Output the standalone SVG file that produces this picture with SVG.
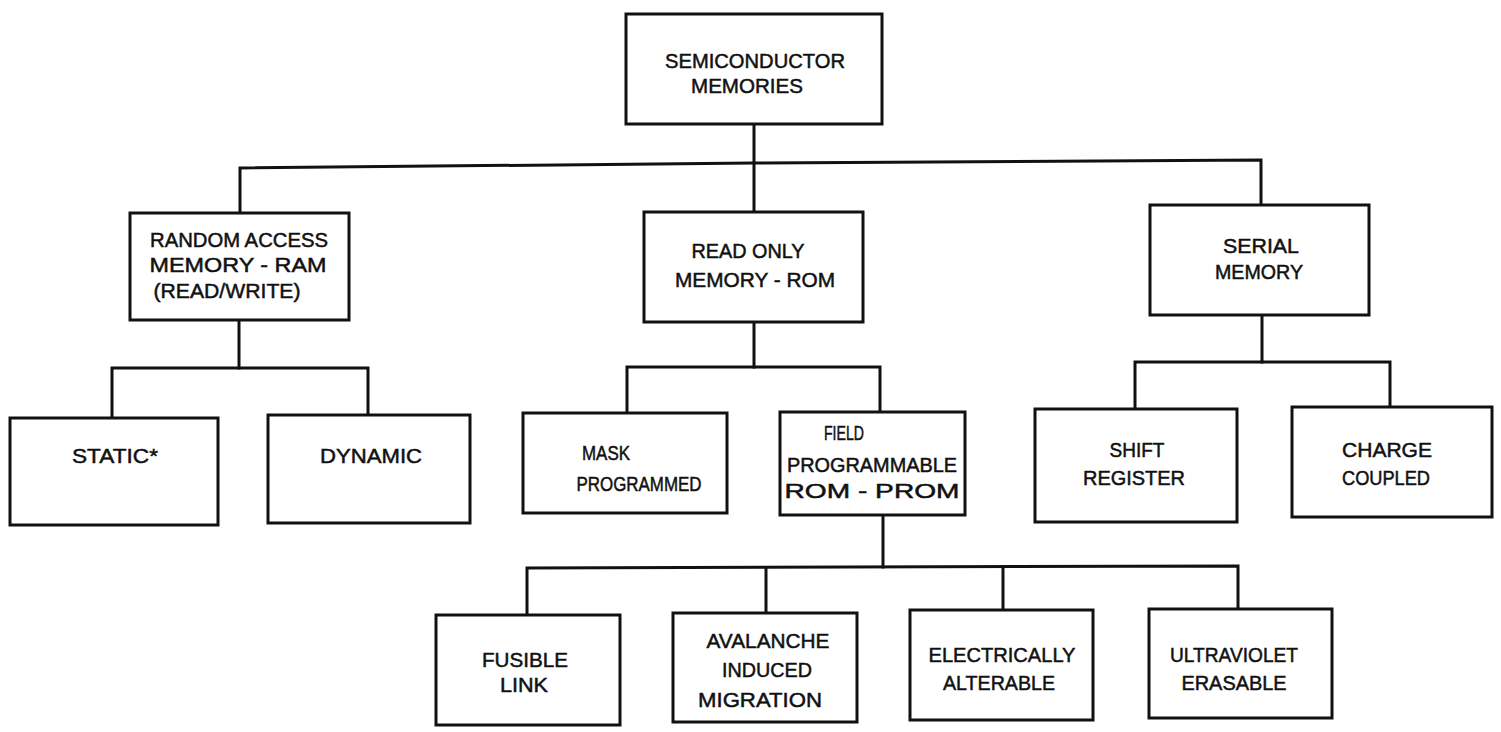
<svg xmlns="http://www.w3.org/2000/svg" width="1501" height="732" viewBox="0 0 1501 732">
<style>
.box{fill:#fff;stroke:#111;stroke-width:3}
.con{fill:none;stroke:#111;stroke-width:3;stroke-linejoin:miter;stroke-linecap:square}
text{font-family:"Liberation Sans","DejaVu Sans",sans-serif;font-size:21px;fill:#111;stroke:#111;stroke-width:0.5;text-anchor:middle}
</style>
<rect width="1501" height="732" fill="#fff"/>
<g id="connectors">
<polyline class="con" points="240,213 240,168 754,163 1261,160 1261,205"/>
<line class="con" x1="754" y1="124" x2="754" y2="212"/>
<polyline class="con" points="239,320 239,368"/>
<polyline class="con" points="112,418 112,368 368,368 368,415"/>
<line class="con" x1="754" y1="322" x2="754" y2="367"/>
<polyline class="con" points="627,413 627,367 880,367 880,412"/>
<line class="con" x1="1262" y1="315" x2="1262" y2="362"/>
<polyline class="con" points="1135,409 1135,362 1390,362 1390,407"/>
<line class="con" x1="883" y1="515" x2="883" y2="567"/>
<polyline class="con" points="527,615 527,568 1238,566 1238,609"/>
<line class="con" x1="766" y1="568" x2="766" y2="613"/>
<line class="con" x1="1003" y1="567" x2="1003" y2="610"/>
</g>
<g id="semiconductor-memories">
<rect class="box" x="626" y="14" width="256" height="110"/>
<text x="755" y="68" textLength="180" lengthAdjust="spacingAndGlyphs">SEMICONDUCTOR</text>
<text x="747" y="93" textLength="112" lengthAdjust="spacingAndGlyphs">MEMORIES</text>
</g>
<g id="ram">
<rect class="box" x="130" y="213" width="219" height="107"/>
<text x="239" y="247" textLength="178" lengthAdjust="spacingAndGlyphs">RANDOM ACCESS</text>
<text x="238" y="272" textLength="177" lengthAdjust="spacingAndGlyphs">MEMORY  -  RAM</text>
<text x="227" y="298" textLength="147" lengthAdjust="spacingAndGlyphs">(READ/WRITE)</text>
</g>
<g id="rom">
<rect class="box" x="644" y="212" width="219" height="110"/>
<text x="748" y="258" textLength="113" lengthAdjust="spacingAndGlyphs">READ ONLY</text>
<text x="755" y="287" textLength="160" lengthAdjust="spacingAndGlyphs">MEMORY - ROM</text>
</g>
<g id="serial">
<rect class="box" x="1150" y="205" width="219" height="110"/>
<text x="1261" y="253" textLength="76" lengthAdjust="spacingAndGlyphs">SERIAL</text>
<text x="1259" y="279" textLength="88" lengthAdjust="spacingAndGlyphs">MEMORY</text>
</g>
<g id="static">
<rect class="box" x="10" y="418" width="208" height="107"/>
<text x="115" y="463" textLength="86" lengthAdjust="spacingAndGlyphs">STATIC*</text>
</g>
<g id="dynamic">
<rect class="box" x="268" y="415" width="202" height="108"/>
<text x="371" y="463" textLength="102" lengthAdjust="spacingAndGlyphs">DYNAMIC</text>
</g>
<g id="mask-programmed">
<rect class="box" x="523" y="413" width="204" height="100"/>
<text x="606" y="460" textLength="48" lengthAdjust="spacingAndGlyphs">MASK</text>
<text x="639" y="491" textLength="125" lengthAdjust="spacingAndGlyphs">PROGRAMMED</text>
</g>
<g id="prom">
<rect class="box" x="780" y="412" width="185" height="103"/>
<text x="844" y="440" textLength="40" lengthAdjust="spacingAndGlyphs">FIELD</text>
<text x="872" y="472" textLength="170" lengthAdjust="spacingAndGlyphs">PROGRAMMABLE</text>
<text x="872" y="498" textLength="175" lengthAdjust="spacingAndGlyphs">ROM  -  PROM</text>
</g>
<g id="shift-register">
<rect class="box" x="1035" y="409" width="202" height="113"/>
<text x="1137" y="457" textLength="55" lengthAdjust="spacingAndGlyphs">SHIFT</text>
<text x="1134" y="485" textLength="102" lengthAdjust="spacingAndGlyphs">REGISTER</text>
</g>
<g id="charge-coupled">
<rect class="box" x="1292" y="407" width="200" height="110"/>
<text x="1387" y="457" textLength="90" lengthAdjust="spacingAndGlyphs">CHARGE</text>
<text x="1386" y="485" textLength="88" lengthAdjust="spacingAndGlyphs">COUPLED</text>
</g>
<g id="fusible-link">
<rect class="box" x="436" y="615" width="184" height="110"/>
<text x="525" y="667" textLength="86" lengthAdjust="spacingAndGlyphs">FUSIBLE</text>
<text x="524" y="692" textLength="48" lengthAdjust="spacingAndGlyphs">LINK</text>
</g>
<g id="avalanche">
<rect class="box" x="673" y="613" width="184" height="109"/>
<text x="768" y="648" textLength="123" lengthAdjust="spacingAndGlyphs">AVALANCHE</text>
<text x="767" y="677" textLength="90" lengthAdjust="spacingAndGlyphs">INDUCED</text>
<text x="760" y="707" textLength="124" lengthAdjust="spacingAndGlyphs">MIGRATION</text>
</g>
<g id="electrically-alterable">
<rect class="box" x="910" y="610" width="183" height="110"/>
<text x="1002" y="662" textLength="147" lengthAdjust="spacingAndGlyphs">ELECTRICALLY</text>
<text x="999" y="690" textLength="112" lengthAdjust="spacingAndGlyphs">ALTERABLE</text>
</g>
<g id="ultraviolet-erasable">
<rect class="box" x="1149" y="609" width="183" height="109"/>
<text x="1234" y="662" textLength="128" lengthAdjust="spacingAndGlyphs">ULTRAVIOLET</text>
<text x="1234" y="690" textLength="105" lengthAdjust="spacingAndGlyphs">ERASABLE</text>
</g>
</svg>
